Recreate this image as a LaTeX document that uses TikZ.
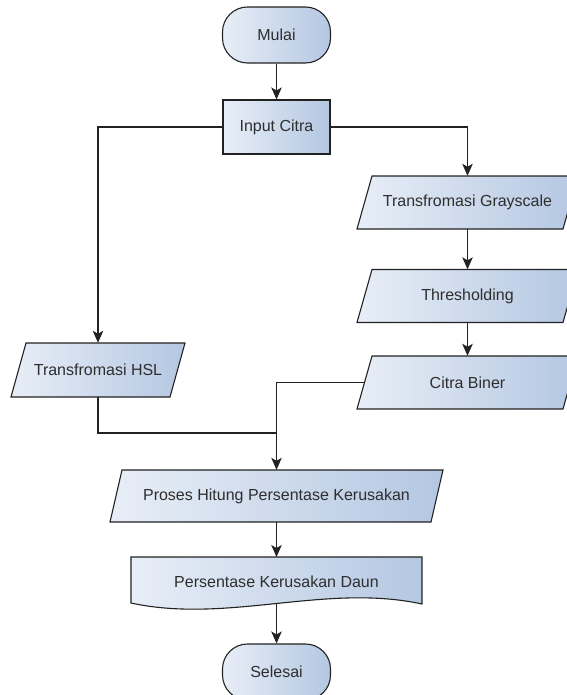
\documentclass[tikz,border=0pt]{standalone}
\usepackage{fontspec}
\setmainfont{Liberation Sans}
\usetikzlibrary{arrows.meta}
\definecolor{gl}{HTML}{E8EEF7}
\definecolor{gr}{HTML}{B4C7E2}
\definecolor{bd}{HTML}{222222}
\definecolor{tx}{HTML}{2E2E2E}
% #1 name, #2 cx, #3 cy, #4 total width, #5 height, #6 skew, #7 text
\newcommand\pgramnode[7]{%
  \path[base] ({#2-#4/2},{#3+#5/2}) -- ({#2-#4/2+#6},{#3-#5/2}) -- ({#2+#4/2},{#3-#5/2}) -- ({#2+#4/2-#6},{#3+#5/2}) -- cycle;
  \node[txt, inner sep=0pt, minimum width={(#4-#6)*1pt}, minimum height={#5*1pt}] (#1) at (#2,#3) {#7};%
}
\begin{document}
\begin{tikzpicture}[x=1pt,y=-1pt,
 txt/.style={text=tx, font=\fontsize{16}{19}\selectfont},
 base/.style={txt, draw=bd, line width=1.1pt, left color=gl, right color=gr, inner sep=0pt},
 term/.style={base, rectangle, rounded corners=25pt, minimum width=108pt, minimum height=56pt},
 procbox/.style={base, rectangle, minimum width=107pt, minimum height=54pt},
 conn/.style={draw=bd, line width=1.1pt},
 arr/.style={conn, -{Stealth[length=12pt,width=10.5pt,inset=3pt]}}]
\useasboundingbox (0,0) rectangle (566,695);
\node[term] (mulai) at (276.5,35) {Mulai};
\node[procbox] (input) at (276.5,127) {Input Citra};
\pgramnode{gray}{467.5}{202.5}{221}{53}{15}{Transfromasi Grayscale}
\pgramnode{thr}{467.5}{296}{221}{53}{15}{Thresholding}
\pgramnode{citra}{467.5}{382.5}{221}{53}{15}{Citra Biner}
\pgramnode{hsl}{98}{370}{174}{54}{15}{Transfromasi HSL}
\pgramnode{proses}{276.5}{496}{333}{52}{12}{Proses Hitung Persentase Kerusakan}
\path[base] (131,557) -- (422,557) -- (422,604) .. controls (325,583) and (228,624) .. (131,603) -- cycle;
\node[txt] (doc) at (276.5,582) {Persentase Kerusakan Daun};
\coordinate (docT) at (276.5,557);
\coordinate (docB) at (276.5,603.5);
\node[term] (selesai) at (276.5,672) {Selesai};
\coordinate (j) at (276.5,433);
\draw[arr] (mulai) -- (input);
\draw[arr] (input.west) -| (hsl.north);
\draw[arr] (input.east) -| (gray.north);
\draw[arr] (gray) -- (thr);
\draw[arr] (thr) -- (citra);
\draw[conn] (hsl.south) |- (j);
\draw[conn] (citra.west) -| (j);
\draw[arr] (j) -- (proses.north);
\draw[arr] (proses) -- (docT);
\draw[arr] (docB) -- (selesai);
\end{tikzpicture}
\end{document}
